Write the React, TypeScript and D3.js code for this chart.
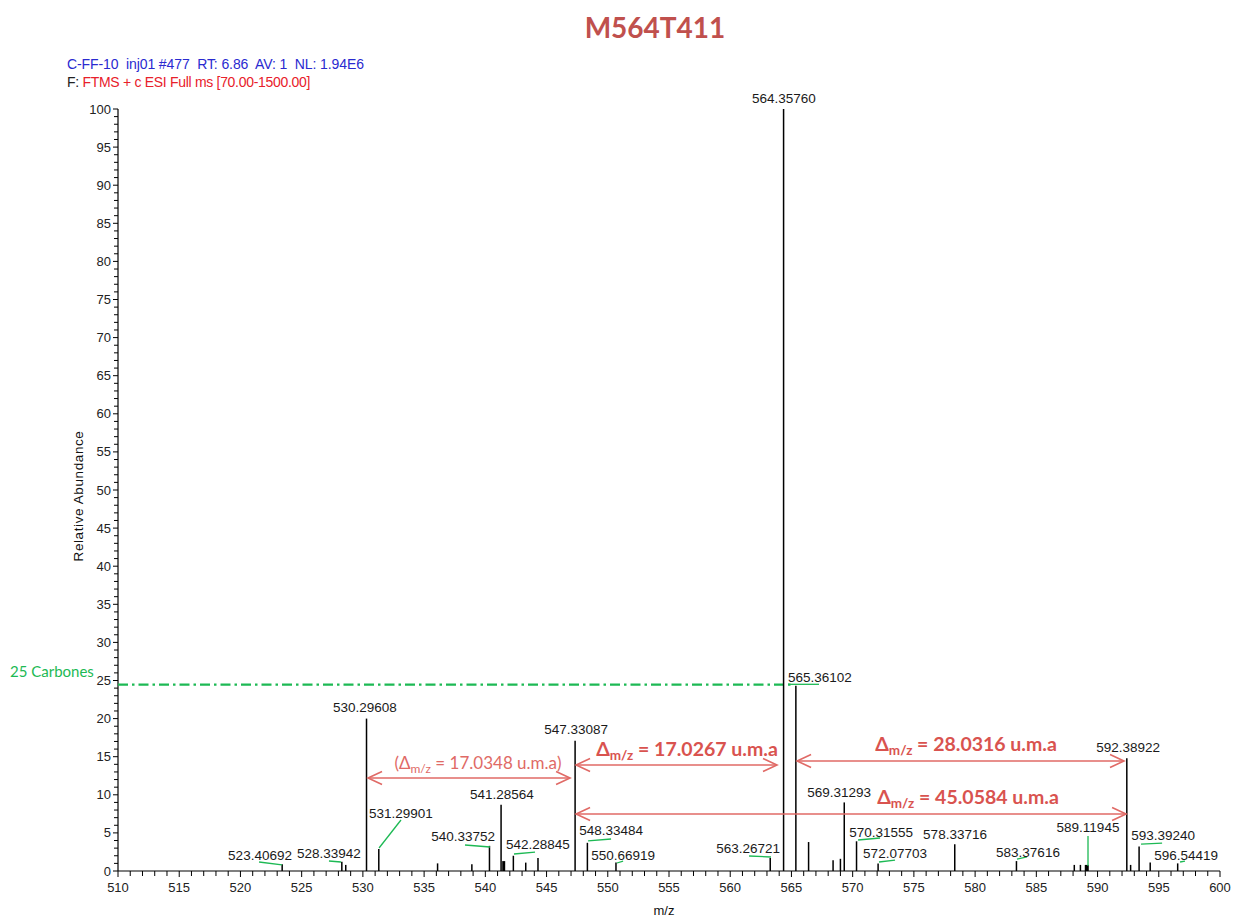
import React from "react";
import * as d3 from "d3";

// ---------- DATA ----------
const peakMz = [523.40692, 528.28, 528.6, 530.29608, 531.29901, 536.1, 538.9, 540.33752, 541.28564, 541.5, 542.28845, 543.3, 544.3, 547.33087, 548.33484, 550.66919, 563.26721, 564.3576, 565.36102, 566.4, 568.4, 569.0, 569.31293, 570.31555, 572.07703, 578.33716, 583.37616, 588.1, 588.6, 589.11945, 592.38922, 592.7, 593.3924, 594.3, 596.54419];
const peakAbundance = [0.9, 1.2, 0.8, 20.0, 2.9, 1.0, 0.9, 3.3, 8.7, 1.3, 2.0, 1.1, 1.7, 17.1, 3.7, 1.1, 1.7, 100, 24.3, 3.8, 1.4, 1.6, 9.0, 3.9, 1.0, 3.5, 1.3, 0.8, 0.8, 0.8, 14.8, 0.8, 3.2, 1.1, 1.0];
const peakWidth = [1.5, 1.5, 1.5, 1.5, 1.5, 1.5, 1.5, 1.5, 1.5, 3, 1.5, 1.5, 1.5, 1.5, 1.5, 1.5, 1.5, 1.5, 1.5, 1.5, 1.5, 1.5, 1.5, 1.5, 1.5, 1.5, 1.5, 1.5, 1.5, 4, 1.5, 1.5, 1.5, 1.5, 1.5];

// peak labels: text, label anchor (m/z, abundance)
const labelText = ["564.35760", "565.36102", "530.29608", "547.33087", "592.38922", "541.28564", "569.31293", "531.29901", "540.33752", "542.28845", "548.33484", "550.66919", "563.26721", "570.31555", "572.07703", "578.33716", "583.37616", "589.11945", "593.39240", "596.54419", "523.40692", "528.33942"];
const labelMz = [564.39, 567.33, 530.17, 547.41, 592.49, 541.36, 568.89, 533.11, 538.18, 544.3, 550.27, 551.25, 561.46, 572.32, 573.46, 578.36, 584.32, 589.22, 595.35, 597.23, 521.6, 527.23];
const labelAb = [101.44, 25.46, 21.52, 18.64, 16.27, 10.1, 10.37, 7.61, 4.59, 3.54, 5.38, 2.1, 3.02, 5.12, 2.36, 4.86, 2.49, 5.77, 4.72, 2.1, 2.1, 2.36];

// green leader lines [mz1, ab1, mz2, ab2]
const leaders: number[][] = [
  [521.52, 1.18, 523.39, 0.79],
  [527.23, 1.31, 528.21, 1.18],
  [531.32, 3.02, 533.11, 6.69],
  [538.34, 3.41, 540.38, 3.15],
  [542.34, 2.23, 544.06, 2.49],
  [548.39, 3.94, 550.27, 4.2],
  [550.75, 1.05, 551.25, 1.31],
  [561.54, 1.97, 563.33, 1.84],
  [564.72, 24.5, 567.25, 24.5],
  [570.44, 4.07, 572.24, 4.33],
  [572.15, 1.18, 573.46, 1.44],
  [583.42, 1.57, 584.24, 1.84],
  [589.22, 4.59, 589.22, 0.66],
  [593.55, 3.54, 595.27, 3.67],
  [596.74, 1.18, 597.14, 1.31],
];

// delta annotations
const deltaValue = ["17.0348", "17.0267", "28.0316", "45.0584"];
const deltaFrom = [530.42, 547.41, 565.46, 547.41];
const deltaTo = [546.92, 563.82, 592.16, 592.33];
const deltaArrowAb = [12.2, 13.91, 14.44, 7.48];
const deltaLabelMz = [539.4, 556.47, 579.26, 579.42];
const deltaLabelAb = [14.17, 16.01, 16.67, 9.71];
const deltaBold = [false, true, true, true];

const carbonLevel = 24.45;
const carbonEndMz = 565.2;

const xMajorTicks = d3.range(510, 601, 5);
const xMinorTicks = d3.range(510, 601, 1);
const yMajorTicks = d3.range(0, 101, 5);
const yMinorTicks = d3.range(0, 101, 1);

// ---------- CHART ----------
const W = 1236;
const H = 918;
const x = d3.scaleLinear().domain([510, 600]).range([118, 1220]);
const y = d3.scaleLinear().domain([0, 100]).range([871, 109]);

const AX = "'Liberation Sans', Arial, sans-serif";
const CAL = "Lato, 'Open Sans', sans-serif";
const RED = "#e06a66";
const REDTXT = "#d9534f";
const GREEN = "#1db954";

function Arrow({ x1, x2, yy }: { x1: number; x2: number; yy: number }) {
  const hl = 14;
  const hw = 6.5;
  return (
    <g stroke={RED} strokeWidth={1.6} fill="none">
      <line x1={x1} y1={yy} x2={x2} y2={yy} />
      <polyline points={`${x1 + hl},${yy - hw} ${x1},${yy} ${x1 + hl},${yy + hw}`} />
      <polyline points={`${x2 - hl},${yy - hw} ${x2},${yy} ${x2 - hl},${yy + hw}`} />
    </g>
  );
}

export default function App() {
  const y0 = y(0);
  return (
    <svg
      width={W}
      height={H}
      style={{ position: "absolute", left: 0, top: 0, background: "#fff" }}
    >
      {/* title */}
      <text x={655} y={28} dy="0.35em" textAnchor="middle" fontFamily={CAL} fontWeight="bold" fontSize={28} fill="#c0504d">
        M564T411
      </text>
      {/* header */}
      <text x={67} y={64} dy="0.35em" fontFamily={AX} fontSize={14} letterSpacing={-0.1} fill="#2a2ad0" style={{ whiteSpace: "pre" }}>
        {"C-FF-10  inj01 #477  RT: 6.86  AV: 1  NL: 1.94E6"}
      </text>
      <text x={67} y={82} dy="0.35em" fontFamily={AX} fontSize={14} letterSpacing={-0.3} fill="#e8202a" style={{ whiteSpace: "pre" }}>
        <tspan fill="#222">F: </tspan>
        {"FTMS + c ESI Full ms [70.00-1500.00]"}
      </text>

      {/* y axis */}
      <line x1={x(510)} x2={x(510)} y1={y(0)} y2={y(100)} stroke="#000" strokeWidth={1.2} />
      {yMinorTicks.map((t) => (
        <line key={"ym" + t} x1={x(510) - (t % 5 === 0 ? 5 : 4)} x2={x(510)} y1={y(t)} y2={y(t)} stroke="#000" strokeWidth={1} />
      ))}
      {yMajorTicks.map((t) => (
        <text key={"yl" + t} x={x(510) - 7} y={y(t)} dy="0.35em" textAnchor="end" fontFamily={AX} fontSize={13} fill="#222">
          {t}
        </text>
      ))}
      <text
        transform={`translate(78,${(y(0) + y(100)) / 2 + 6}) rotate(-90)`}
        textAnchor="middle"
        dy="0.35em"
        fontFamily={AX}
        fontSize={13.5}
        letterSpacing={0.6}
        fill="#111"
      >
        Relative Abundance
      </text>

      {/* x axis */}
      <line x1={x(510)} x2={x(600)} y1={y0} y2={y0} stroke="#000" strokeWidth={1.2} />
      {xMinorTicks.map((t) => (
        <line key={"xm" + t} x1={x(t)} x2={x(t)} y1={y0} y2={y0 + (t % 5 === 0 ? 6 : 5)} stroke="#000" strokeWidth={1} />
      ))}
      {xMajorTicks.map((t) => (
        <text key={"xl" + t} x={x(t)} y={y0 + 16} dy="0.35em" textAnchor="middle" fontFamily={AX} fontSize={13} fill="#222">
          {t}
        </text>
      ))}
      <text x={664} y={910} dy="0.35em" textAnchor="middle" fontFamily={AX} fontSize={13} fill="#111">
        m/z
      </text>

      {/* carbon line */}
      <line
        x1={x(510)}
        x2={x(carbonEndMz)}
        y1={y(carbonLevel)}
        y2={y(carbonLevel)}
        stroke={GREEN}
        strokeWidth={2.2}
        strokeDasharray="10 4 2.5 4"
      />
      <text x={10} y={y(carbonLevel) - 13} dy="0.35em" fontFamily={CAL} fontSize={15} fill={GREEN}>
        25 Carbones
      </text>

      {/* peaks */}
      {peakMz.map((m, i) => (
        <line key={"p" + i} x1={x(m)} x2={x(m)} y1={y0} y2={y(peakAbundance[i])} stroke="#000" strokeWidth={peakWidth[i]} />
      ))}

      {/* leaders */}
      {leaders.map((l, i) => (
        <line key={"ld" + i} x1={x(l[0])} y1={y(l[1])} x2={x(l[2])} y2={y(l[3])} stroke={GREEN} strokeWidth={1.3} />
      ))}

      {/* peak labels */}
      {labelText.map((t, i) => (
        <text key={"lb" + i} x={x(labelMz[i])} y={y(labelAb[i])} dy="0.35em" textAnchor="middle" fontFamily={AX} fontSize={13.5} fill="#1a1a1a">
          {t}
        </text>
      ))}

      {/* delta arrows */}
      {deltaValue.map((v, i) => (
        <g key={"d" + i}>
          <Arrow x1={x(deltaFrom[i])} x2={x(deltaTo[i])} yy={y(deltaArrowAb[i])} />
          <text
            x={x(deltaLabelMz[i])}
            y={y(deltaLabelAb[i])}
            dy="0.35em"
            textAnchor="middle"
            fontFamily={CAL}
            fontWeight={deltaBold[i] ? "bold" : "normal"}
            fontSize={deltaBold[i] ? 19.5 : 17}
            fill={deltaBold[i] ? REDTXT : RED}
          >
            {deltaBold[i] ? "" : "("}Δ
            <tspan fontSize={deltaBold[i] ? 13.5 : 12} dy={4}>m/z</tspan>
            <tspan dy={-4}>{` = ${v} u.m.a${deltaBold[i] ? "" : ")"}`}</tspan>
          </text>
        </g>
      ))}
    </svg>
  );
}
